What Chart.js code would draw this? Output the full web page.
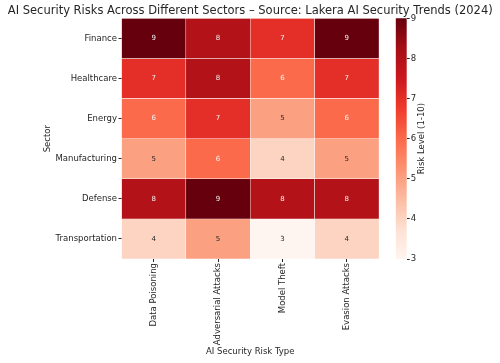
<!DOCTYPE html>
<html>
<head>
<meta charset="utf-8">
<script src="https://cdn.jsdelivr.net/npm/chart.js@4/dist/chart.umd.min.js"></script>
<style>
  html, body { margin: 0; padding: 0; background: #fff; }
  #wrap { position: relative; width: 500px; height: 363px; }
  #heat { position: absolute; left: 0; top: 0; }
  #bar { position: absolute; left: 380px; top: 0; }
</style>
</head>
<body>
<div id="wrap">
  <canvas id="heat" width="500" height="363"></canvas>
  <canvas id="bar" width="120" height="363"></canvas>
</div>
<script>
// ----- data -----
const chartTitle = "AI Security Risks Across Different Sectors – Source: Lakera AI Security Trends (2024)";
const riskTypes = ["Data Poisoning", "Adversarial Attacks", "Model Theft", "Evasion Attacks"];
const sectors = ["Finance", "Healthcare", "Energy", "Manufacturing", "Defense", "Transportation"];

const finance = [9, 8, 7, 9];
const healthcare = [7, 8, 6, 7];
const energy = [6, 7, 5, 6];
const manufacturing = [5, 6, 4, 5];
const defense = [8, 9, 8, 8];
const transportation = [4, 5, 3, 4];
const riskRows = [finance, healthcare, energy, manufacturing, defense, transportation];

const scaleMin = 3;
const scaleMax = 9;
const colorTicks = [3, 4, 5, 6, 7, 8, 9];

// Reds colormap (colorbrewer stops)
const reds = ["#fff5f0", "#fee0d2", "#fcbba1", "#fc9272", "#fb6a4a", "#ef3b2c", "#cb181d", "#a50f15", "#67000d"];

const FONT = "'DejaVu Sans', sans-serif";
const TXT = "#262626";

function hexToRgb(h){
  return [parseInt(h.slice(1,3),16), parseInt(h.slice(3,5),16), parseInt(h.slice(5,7),16)];
}
function redsColor(v){
  let t = (v - scaleMin) / (scaleMax - scaleMin);
  t = Math.max(0, Math.min(1, t));
  const pos = t * (reds.length - 1);
  const i = Math.min(Math.floor(pos), reds.length - 2);
  const f = pos - i;
  const a = hexToRgb(reds[i]), b = hexToRgb(reds[i+1]);
  const c = a.map((x, k) => Math.round(x + (b[k] - x) * f));
  return "rgb(" + c.join(",") + ")";
}

// ----- cell numbers + title -----
const cellLabels = {
  id: "cellLabels",
  afterDatasetsDraw(chart){
    const ctx = chart.ctx;
    ctx.save();
    ctx.font = "7px " + FONT;
    ctx.textAlign = "center";
    ctx.textBaseline = "middle";
    riskRows.forEach((row, i) => {
      const meta = chart.getDatasetMeta(i);
      meta.data.forEach((bar, j) => {
        ctx.fillStyle = row[j] >= 6 ? "#f2f2f2" : TXT;
        ctx.fillText(String(row[j]), bar.x, (bar.y + bar.base) / 2);
      });
    });
    ctx.restore();
  },
  afterDraw(chart){
    // chart title spans wider than the plot, so draw it by hand
    const ctx = chart.ctx;
    ctx.save();
    ctx.font = "11.5px " + FONT;
    ctx.fillStyle = TXT;
    ctx.textAlign = "center";
    ctx.textBaseline = "middle";
    ctx.fillText(chartTitle, (chart.chartArea.left + chart.chartArea.right) / 2, 10.7);
    ctx.restore();
  }
};

// ----- heatmap -----
new Chart(document.getElementById("heat"), {
  type: "bar",
  data: {
    labels: riskTypes,
    datasets: riskRows.map((row, i) => ({
      label: sectors[i],
      data: row.map(() => [i - 0.5, i + 0.5]),
      backgroundColor: row.map(redsColor),
      borderColor: "#ffffff",
      borderWidth: 0.5,
      borderSkipped: false,
      grouped: false,
      barPercentage: 1,
      categoryPercentage: 1
    }))
  },
  options: {
    responsive: false,
    animation: false,
    layout: { padding: { left: 40, right: 121, top: 18.3, bottom: 5 } },
    plugins: {
      legend: { display: false },
      tooltip: { enabled: false },
      title: { display: false }
    },
    scales: {
      x: {
        type: "category",
        offset: true,
        afterFit: s => { s.height = 99; },
        grid: { offset: false, drawOnChartArea: false, tickLength: 3, color: TXT },
        border: { display: false },
        ticks: { color: TXT, font: { family: FONT, size: 8.5 }, minRotation: 90, maxRotation: 90, padding: 1 },
        title: { display: true, text: "AI Security Risk Type", color: TXT, font: { family: FONT, size: 8.5 }, padding: { top: 0, bottom: 1 } }
      },
      y: {
        type: "linear",
        reverse: true,
        min: -0.5,
        max: 5.5,
        afterFit: s => { s.width = 81.5; },
        afterBuildTicks: s => { s.ticks = sectors.map((_, i) => ({ value: i })); },
        grid: { drawOnChartArea: false, tickLength: 3, color: TXT },
        border: { display: false },
        ticks: { color: TXT, font: { family: FONT, size: 8.5 }, padding: 1.5, callback: v => sectors[v] },
        title: { display: true, text: "Sector", color: TXT, font: { family: FONT, size: 8.5 }, padding: { top: 3, bottom: 0 } }
      }
    }
  },
  plugins: [cellLabels]
});

// ----- colorbar -----
const barLabel = {
  id: "barLabel",
  afterDraw(chart){
    const ctx = chart.ctx;
    const y = chart.scales.y;
    ctx.save();
    ctx.translate(41.7, (y.top + y.bottom) / 2);
    ctx.rotate(-Math.PI / 2);
    ctx.font = "8.5px " + FONT;
    ctx.fillStyle = TXT;
    ctx.textAlign = "center";
    ctx.textBaseline = "middle";
    ctx.fillText("Risk Level (1-10)", 0, 0);
    ctx.restore();
  }
};

new Chart(document.getElementById("bar"), {
  type: "bar",
  data: {
    labels: [""],
    datasets: [{
      data: [[scaleMin, scaleMax]],
      backgroundColor: ctx => {
        const chart = ctx.chart;
        if (!chart.chartArea) return reds[4];
        const ys = chart.scales.y;
        const g = chart.ctx.createLinearGradient(0, ys.getPixelForValue(scaleMin), 0, ys.getPixelForValue(scaleMax));
        reds.forEach((c, k) => g.addColorStop(k / (reds.length - 1), c));
        return g;
      },
      borderWidth: 0,
      barPercentage: 1,
      categoryPercentage: 1
    }]
  },
  options: {
    responsive: false,
    animation: false,
    layout: { padding: { left: 15.7, right: 0, top: 18.3, bottom: 104 } },
    plugins: { legend: { display: false }, tooltip: { enabled: false } },
    scales: {
      x: { display: false },
      y: {
        type: "linear",
        position: "right",
        min: scaleMin,
        max: scaleMax,
        afterFit: s => { s.width = 93.3; },
        afterBuildTicks: s => { s.ticks = colorTicks.map(v => ({ value: v })); },
        grid: { drawOnChartArea: false, tickLength: 3, color: TXT },
        border: { display: false },
        ticks: { color: TXT, font: { family: FONT, size: 8.5 }, padding: 1 }
      }
    }
  },
  plugins: [barLabel]
});
</script>
</body>
</html>
